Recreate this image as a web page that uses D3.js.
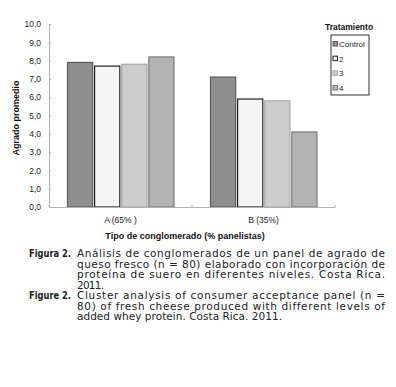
<!DOCTYPE html>
<html lang="es">
<head>
<meta charset="UTF-8">
<title>Figura 2</title>
<script src="https://d3js.org/d3.v7.min.js"></script>
<style>
    body { margin: 0; background: #fff; }
    svg text { font-family: "Liberation Sans", Arial, sans-serif; }
    .caption text { font-family: "DejaVu Sans", Verdana, sans-serif; font-size: 10px; fill: #222; }
</style>
</head>
<body>
<script>
    var clusters = ["A (65% )", "B (35%)"];
    var treatments = ["Control", "2", "3", "4"];
    var control = [7.9, 7.1];
    var t2 = [7.7, 5.9];
    var t3 = [7.8, 5.8];
    var t4 = [8.2, 4.1];
    var yTicks = [0, 1, 2, 3, 4, 5, 6, 7, 8, 9, 10];

    var fills = ["#8e8e8e", "#f5f5f5", "#cdcdcd", "#b3b3b3"];
    var strokes = ["#5a5a5a", "#222", "#a8a8a8", "#7a7a7a"];

    var series = [control, t2, t3, t4];
    var rows = [];
    clusters.forEach(function (c, i) {
        treatments.forEach(function (t, j) {
            rows.push({cluster: c, treat: t, idx: j, value: series[j][i]});
        });
    });

    var W = 396, H = 387;
    var svg = d3.select("body").append("svg")
        .attr("width", W).attr("height", H);

    var x = d3.scaleBand().domain(clusters).range([49, 335]);
    var xInner = d3.scaleBand().domain(treatments)
        .range([18.5, 125]).paddingInner(0.07);
    var y = d3.scaleLinear().domain([0, 10]).range([207, 24]);

    // y axis
    var yAxis = svg.append("g")
        .attr("transform", "translate(49,0)")
        .call(d3.axisLeft(y).tickValues(yTicks).tickSize(-2).tickPadding(8)
            .tickFormat(function (d) { return d3.format(".1f")(d).replace(".", ","); }));
    yAxis.select(".domain").attr("stroke", "#b0b0b0");
    yAxis.selectAll(".tick line").attr("stroke", "#b0b0b0");
    yAxis.selectAll("text").attr("font-size", "8.5px").attr("fill", "#222")
        .style("font-family", "Liberation Sans, Arial, sans-serif");

    // bars
    svg.selectAll(".bar")
        .data(rows)
        .enter().append("rect")
        .attr("class", "bar")
        .attr("x", function (d) { return x(d.cluster) + xInner(d.treat); })
        .attr("width", xInner.bandwidth())
        .attr("y", function (d) { return y(d.value); })
        .attr("height", function (d) { return y(0) - y(d.value); })
        .attr("fill", function (d) { return fills[d.idx]; })
        .attr("stroke", function (d) { return strokes[d.idx]; })
        .attr("stroke-width", 1.2);

    // x axis
    var xAxis = svg.append("g")
        .attr("transform", "translate(0,207)")
        .call(d3.axisBottom(x).tickSize(0).tickPadding(10));
    xAxis.select(".domain").attr("stroke", "#b0b0b0");
    xAxis.selectAll("text").attr("font-size", "8.5px").attr("fill", "#222")
        .style("font-family", "Liberation Sans, Arial, sans-serif");
    xAxis.selectAll(".sep")
        .data(x.domain().map(function (d) { return x(d); }).concat([x.range()[1]]))
        .enter().append("line")
        .attr("class", "sep")
        .attr("x1", function (d) { return d; }).attr("x2", function (d) { return d; })
        .attr("y1", 0).attr("y2", -2)
        .attr("stroke", "#b0b0b0");

    // axis titles
    svg.append("text")
        .attr("transform", "translate(19,118) rotate(-90)")
        .attr("text-anchor", "middle")
        .attr("font-size", "9px").attr("font-weight", "bold").attr("fill", "#111")
        .text("Agrado promedio");
    svg.append("text")
        .attr("x", 185).attr("y", 239)
        .attr("text-anchor", "middle")
        .attr("font-size", "9px").attr("font-weight", "bold").attr("fill", "#111")
        .text("Tipo de conglomerado (% panelistas)");

    // legend
    svg.append("text")
        .attr("x", 349).attr("y", 30)
        .attr("text-anchor", "middle")
        .attr("font-size", "8.5px").attr("font-weight", "bold").attr("fill", "#111")
        .text("Tratamiento");
    svg.append("rect")
        .attr("x", 331).attr("y", 35).attr("width", 38).attr("height", 60)
        .attr("fill", "#fff").attr("stroke", "#333").attr("stroke-width", 1);
    var ly = d3.scalePoint().domain(treatments).range([44, 88]);
    var leg = svg.selectAll(".leg")
        .data(treatments)
        .enter().append("g")
        .attr("class", "leg")
        .attr("transform", function (d) { return "translate(333," + ly(d) + ")"; });
    leg.append("rect")
        .attr("x", 0).attr("y", -2.5).attr("width", 4.5).attr("height", 4.5)
        .attr("fill", function (d, i) { return fills[i]; })
        .attr("stroke", function (d, i) { return strokes[i]; })
        .attr("stroke-width", 1);
    leg.append("text")
        .attr("x", 6).attr("y", 3)
        .attr("font-size", "8px").attr("fill", "#222")
        .text(function (d) { return d; });

    var capLabels = [
        {text: "Figura 2.", y: 257},
        {text: "Figure 2.", y: 299}
    ];
    var capLines = [
        {text: "Análisis de conglomerados de un panel de agrado de", w: 308},
        {text: "queso fresco (n = 80) elaborado con incorporación de", w: 308},
        {text: "proteína de suero en diferentes niveles. Costa Rica.", w: 308},
        {text: "2011.", w: 27},
        {text: "Cluster analysis of consumer acceptance panel (n =", w: 308},
        {text: "80) of fresh cheese produced with different levels of", w: 308},
        {text: "added whey protein. Costa Rica. 2011.", w: 205}
    ];
    var cap = svg.append("g").attr("class", "caption");
    cap.selectAll(".lab")
        .data(capLabels)
        .enter().append("text")
        .attr("class", "lab")
        .attr("x", 29).attr("y", function (d) { return d.y; })
        .attr("font-weight", "bold")
        .attr("textLength", 42)
        .attr("lengthAdjust", "spacingAndGlyphs")
        .text(function (d) { return d.text; });
    var sx = 1.05;
    cap.selectAll(".ln")
        .data(capLines)
        .enter().append("text")
        .attr("class", "ln")
        .attr("transform", function (d, i) {
            return "translate(77," + (257 + i * 10.5) + ") scale(" + sx + ",1)";
        })
        .attr("textLength", function (d) { return d.w / sx; })
        .attr("lengthAdjust", "spacing")
        .text(function (d) { return d.text; });
</script>
</body>
</html>
